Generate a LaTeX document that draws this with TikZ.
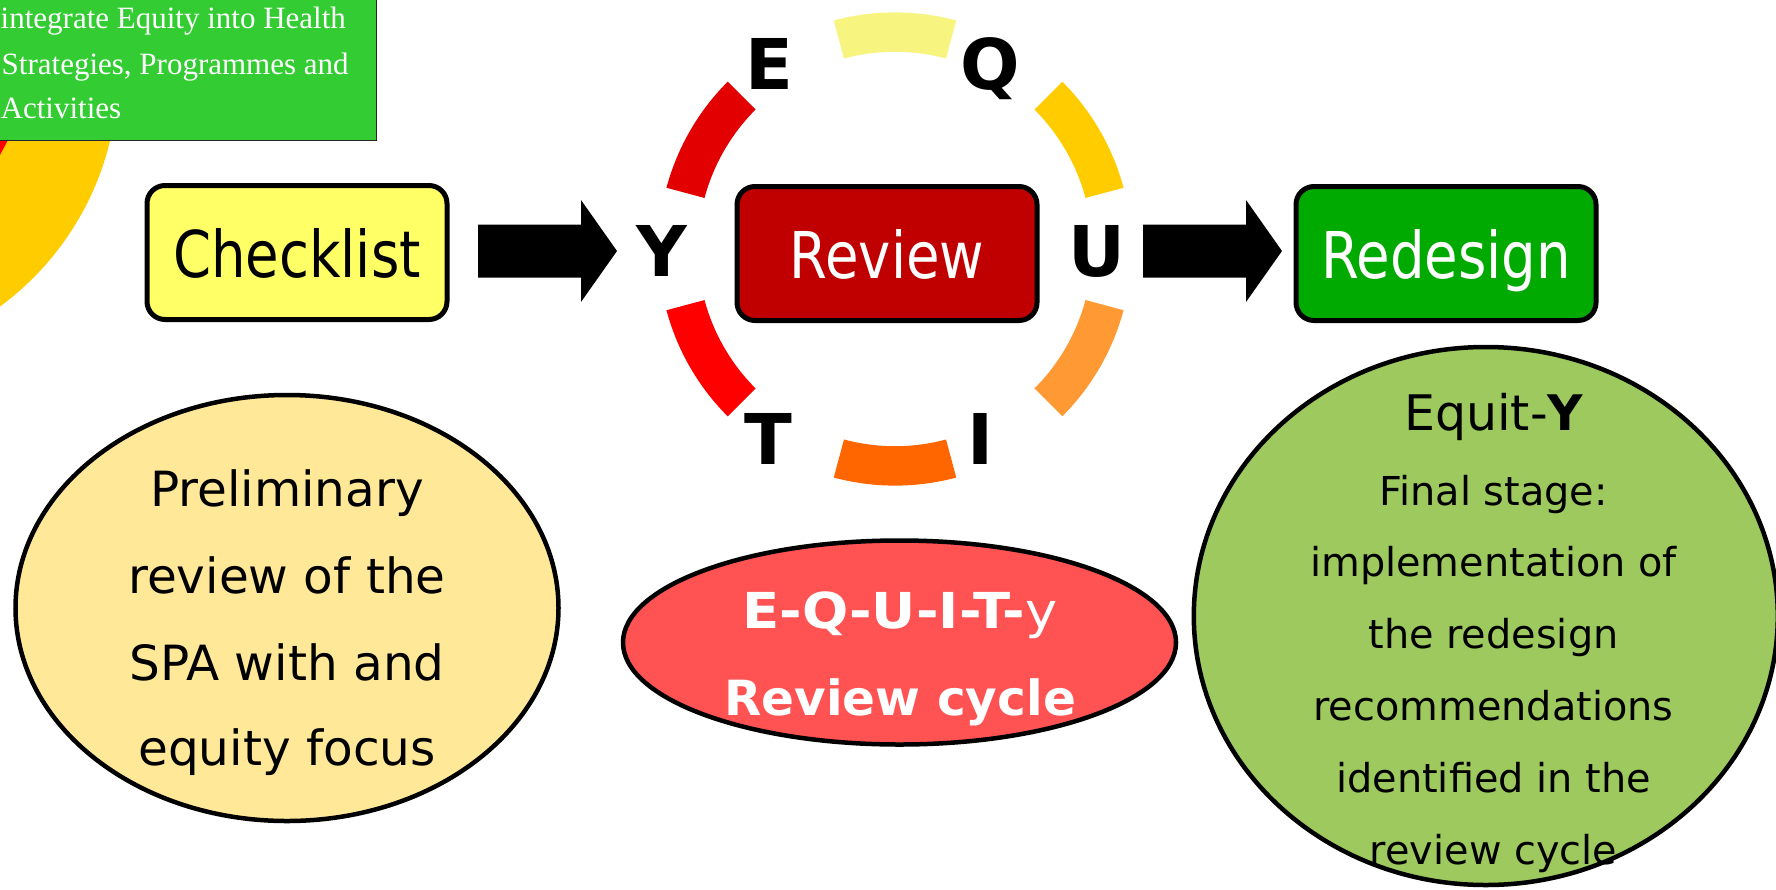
\documentclass[tikz,border=0pt]{standalone}
\usepackage{fontspec}
\setmainfont{DejaVu Sans}
\newfontfamily\narrowfont[FakeStretch=0.845]{DejaVu Sans}
\newfontfamily\widefont[FakeStretch=1.1]{DejaVu Sans}
\newfontfamily\bannerfont{Liberation Serif}
\usetikzlibrary{calc,shapes.geometric}

\definecolor{chkfill}{HTML}{FFFF66}
\definecolor{revfill}{HTML}{C00000}
\definecolor{desfill}{HTML}{00AA00}
\definecolor{prefill}{HTML}{FFE999}
\definecolor{cycfill}{HTML}{FF5252}
\definecolor{finfill}{HTML}{9DC95F}
\definecolor{bannergreen}{HTML}{33CC33}
\definecolor{sunyellow}{HTML}{FFCC00}
\definecolor{segtop}{HTML}{F7F580}
\definecolor{segtr}{HTML}{FFCC00}
\definecolor{segbr}{HTML}{FF9933}
\definecolor{segbot}{HTML}{FF6600}
\definecolor{segbl}{HTML}{FF0000}
\definecolor{segtl}{HTML}{E20000}

% one coloured piece of the EQUITY ring
\newcommand\ringseg[3]{%
  \fill[#1] ($(ring)+(#2:236.6)$) arc[start angle=#2, end angle=#3, radius=236.6]
    -- ($(ring)+(#3:197.2)$) arc[start angle=#3, end angle=#2, radius=197.2] -- cycle;}

\tikzset{
  stagebox/.style={draw=black, line width=5pt, rounded corners=18pt,
    minimum width=300pt, minimum height=134pt, text height=49pt, text depth=0pt,
    inner sep=0pt, font=\narrowfont\fontsize{64.5}{77}\selectfont},
  bubble/.style={ellipse, draw=black, line width=4.5pt, inner sep=0pt},
  ringletter/.style={anchor=base, inner sep=0pt, font=\fontsize{70}{84}\selectfont\bfseries},
  txt/.style={anchor=base, inner sep=0pt},
  bannerline/.style={anchor=base west, inner sep=0pt, text=white,
    font=\bannerfont\fontsize{31}{37}\selectfont},
  blockarrow/.style={fill=black},
}

\begin{document}
\begin{tikzpicture}[x=1pt,y=-1pt]
\useasboundingbox (0,0) rectangle (1776,889);
\clip (0,0) rectangle (1776,889);
\fill[white] (0,0) rectangle (1776,889);

% corner graphic: yellow disc with a red wedge, under the green banner
\fill[sunyellow] (-172,73) circle[radius=290];
\fill[segbl] (0,138) -- (9,138) -- (0,155) -- cycle;
\node[anchor=south east, minimum width=400pt, minimum height=160pt, inner sep=0pt,
  fill=bannergreen, draw=black!85, line width=1.3pt] (banner) at (377,141) {};
\node[bannerline] (b1) at (0.5,28.5) {integrate Equity into Health};
\node[bannerline] (b2) at (1.5,74.5) {Strategies, Programmes and};
\node[bannerline] (b3) at (0.5,118.5) {Activities};

% ring
\coordinate (ring) at (895,249);
\ringseg{segtop}{255}{285}
\ringseg{segtr}{315}{345}
\ringseg{segbr}{15}{45}
\ringseg{segbot}{75}{105}
\ringseg{segbl}{135}{165}
\ringseg{segtl}{195}{225}

\node[ringletter] (lE) at (769.5,89.3) {E};
\node[ringletter] (lQ) at (990.7,89.3) {Q};
\node[ringletter] (lY) at (662,276.7) {Y};
\node[ringletter] (lU) at (1097,276.7) {U};
\node[ringletter] (lT) at (768.4,464.3) {T};
\node[ringletter] (lI) at (980.6,464.3) {I};

% stages
\node[stagebox, fill=chkfill] (chk) at (297,252.5) {Checklist};
\node[stagebox, fill=revfill, text=white] (rev) at (887,253.5) {Review};
\node[stagebox, fill=desfill, text=white] (des) at (1446,253.5) {Redesign};

% block arrows
\coordinate (a1) at (478,251);
\coordinate (a2) at (1143,251);
\foreach \s in {a1,a2}
  \fill[blockarrow] (\s) ++(0,-26.5) -- ++(103,0) -- ++(0,-24.5) -- ++(36,51)
    -- ++(-36,51) -- ++(0,-24.5) -- ++(-103,0) -- cycle;

% descriptions
\node[bubble, fill=prefill, minimum width=543pt, minimum height=426pt] (pre) at (287,608) {};
\node[bubble, fill=cycfill, minimum width=553pt, minimum height=204pt] (cyc) at (899.5,642.5) {};
\node[bubble, fill=finfill, minimum width=584pt, minimum height=538pt] (fin) at (1485.8,616) {};

\begin{scope}[every node/.style={txt, font=\fontsize{48.5}{58}\selectfont}]
\node (p1) at (287,506.7) {Preliminary};
\node (p2) at (287,593.3) {review of the};
\node (p3) at (287,680) {SPA with and};
\node (p4) at (287,765.3) {equity focus};
\end{scope}

\node[txt, text=white, font=\widefont\fontsize{49.5}{59}\selectfont] (c1) at (900,628.3) {\textbf{E-Q-U-I-T-}y};
\node[txt, text=white, font=\bfseries\fontsize{48.5}{59}\selectfont] (c2) at (900,715) {Review cycle};

\node[txt, font=\fontsize{49}{59}\selectfont] (f0) at (1494,430.5) {Equit-\textbf{Y}};
\begin{scope}[every node/.style={txt, font=\fontsize{39.8}{48}\selectfont}]
\node (f1) at (1493.5,505) {Final stage:};
\node (f2) at (1493.5,576.7) {implementation of};
\node (f3) at (1493.5,648.3) {the redesign};
\node (f4) at (1493.5,720.7) {recommendations};
\node (f5) at (1493.5,792.3) {identified in the};
\node (f6) at (1493.5,864) {review cycle};
\end{scope}
\end{tikzpicture}
\end{document}
